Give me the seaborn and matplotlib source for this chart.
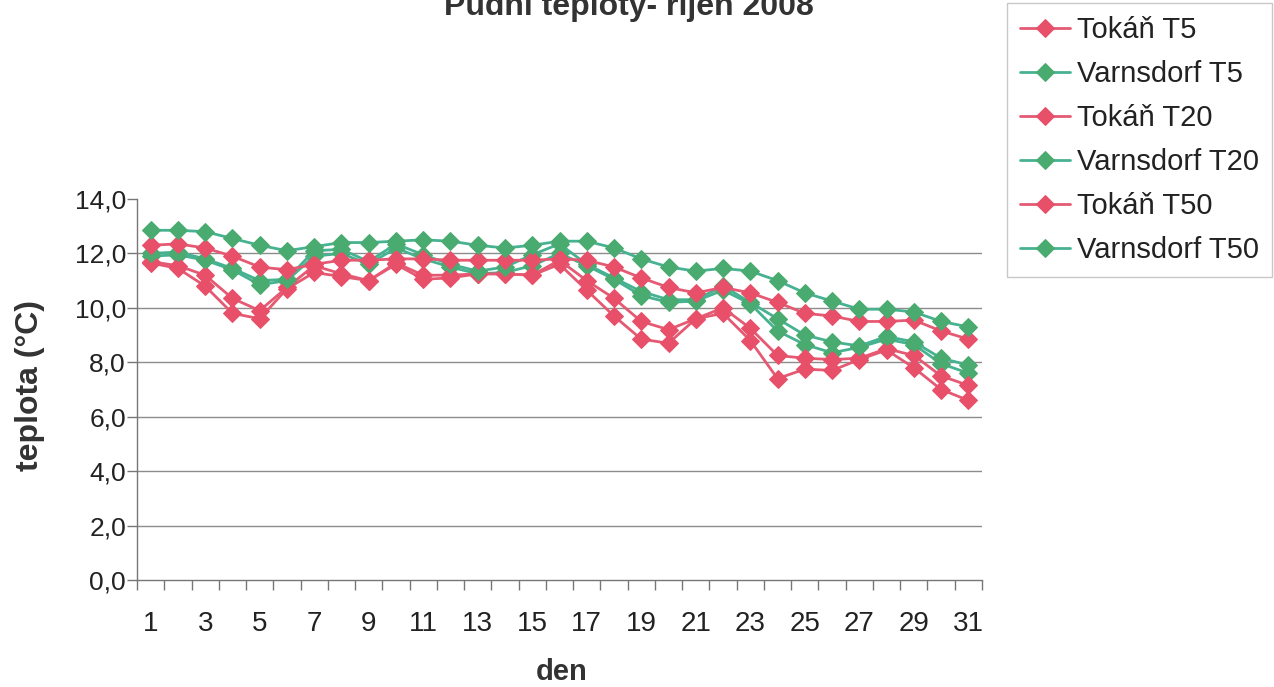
import numpy as np
import pandas as pd
import matplotlib
matplotlib.use("Agg")
import matplotlib.pyplot as plt
import seaborn as sns

days = list(range(1, 32))

tokan_t5 = [11.65, 11.45, 10.8, 9.8, 9.6, 10.7, 11.3, 11.15, 11.0, 11.6, 11.05, 11.1, 11.25, 11.25, 11.2, 11.6,
            10.65, 9.7, 8.85, 8.7, 9.6, 9.8, 8.8, 7.4, 7.75, 7.7, 8.1, 8.45, 7.8, 7.0, 6.6]
varns_t5 = [11.9, 11.95, 11.75, 11.4, 10.85, 11.0, 11.9, 12.0, 11.6, 12.2, 11.8, 11.5, 11.25, 11.3, 11.55, 12.0,
            11.55, 11.05, 10.45, 10.2, 10.25, 10.65, 10.15, 9.15, 8.65, 8.35, 8.55, 8.85, 8.65, 7.95, 7.6]
tokan_t20 = [11.7, 11.55, 11.2, 10.35, 9.9, 10.75, 11.55, 11.25, 11.0, 11.65, 11.2, 11.2, 11.25, 11.25, 11.2, 11.75,
             11.0, 10.35, 9.5, 9.2, 9.6, 10.0, 9.25, 8.25, 8.15, 8.1, 8.15, 8.5, 8.25, 7.5, 7.15]
varns_t20 = [12.0, 12.05, 11.8, 11.45, 11.0, 11.05, 12.1, 12.15, 11.7, 12.35, 11.95, 11.6, 11.35, 11.5, 11.95, 12.35,
             11.6, 11.1, 10.6, 10.3, 10.3, 10.8, 10.2, 9.6, 9.0, 8.75, 8.6, 8.95, 8.75, 8.15, 7.9]
tokan_t50 = [12.3, 12.35, 12.2, 11.9, 11.5, 11.4, 11.6, 11.75, 11.75, 11.8, 11.8, 11.75, 11.75, 11.75, 11.75, 11.8,
             11.75, 11.5, 11.1, 10.75, 10.55, 10.75, 10.55, 10.2, 9.8, 9.7, 9.5, 9.5, 9.55, 9.15, 8.85]
varns_t50 = [12.85, 12.85, 12.8, 12.55, 12.3, 12.1, 12.25, 12.4, 12.4, 12.45, 12.5, 12.45, 12.3, 12.2, 12.3, 12.45,
             12.45, 12.2, 11.8, 11.5, 11.35, 11.45, 11.35, 11.0, 10.55, 10.25, 9.95, 9.95, 9.85, 9.5, 9.3]

series_names = ["Tokáň T5", "Varnsdorf T5", "Tokáň T20", "Varnsdorf T20", "Tokáň T50", "Varnsdorf T50"]
series_values = [tokan_t5, varns_t5, tokan_t20, varns_t20, tokan_t50, varns_t50]

yticks = [0, 2, 4, 6, 8, 10, 12, 14]
ytick_labels = ["0,0", "2,0", "4,0", "6,0", "8,0", "10,0", "12,0", "14,0"]
xtick_days = list(range(1, 32, 2))

RED_LINE = "#e55a72"
RED_MARK = "#e8506a"
GREEN_LINE = "#47b291"
GREEN_MARK = "#4aab70"

sns.set_theme(style="white")
plt.rcParams["font.family"] = ["Liberation Sans", "DejaVu Sans"]

fig = plt.figure(figsize=(12.74, 6.87), dpi=100)
ax = fig.add_axes([137 / 1274, 107 / 687, (982 - 137) / 1274, (580 - 199) / 687])

for yv in yticks[1:-1]:
    ax.axhline(yv, color="#8c8c8c", lw=1.0, zorder=0)

for name, vals in zip(series_names, series_values):
    df = pd.DataFrame({"den": days, "t": vals})
    red = name.startswith("Tok")
    sns.lineplot(data=df, x="den", y="t", ax=ax, color=RED_LINE if red else GREEN_LINE,
                 lw=2.0, marker="D", markersize=9,
                 markerfacecolor=RED_MARK if red else GREEN_MARK,
                 markeredgecolor=RED_MARK if red else GREEN_MARK, label=name, zorder=3)

ax.set_xlim(0.5, 31.5)
ax.set_ylim(0, 14)
ax.set_yticks(yticks)
ax.set_yticklabels(ytick_labels, fontsize=19, color="#222222")
ax.set_xticks(xtick_days)
ax.set_xticklabels([str(d) for d in xtick_days], fontsize=20, color="#222222")
ax.set_xticks(np.arange(0.5, 32, 1.0), minor=True)
ax.tick_params(axis="x", which="major", length=0, pad=22)
ax.tick_params(axis="x", which="minor", length=7, width=1, color="#777777", direction="out", bottom=True)
ax.tick_params(axis="y", which="major", length=7, width=1, color="#777777", direction="out", left=True, pad=1)

for s in ["top", "right"]:
    ax.spines[s].set_visible(False)
for s in ["left", "bottom"]:
    ax.spines[s].set_color("#777777")
    ax.spines[s].set_linewidth(1.0)

ax.set_xlabel("den", fontsize=21, fontweight="bold", color="#333333")
ax.xaxis.set_label_coords(0.503, -0.205)
ax.set_ylabel("teplota (°C)", fontsize=23, fontweight="bold", color="#333333")
ax.yaxis.set_label_coords(-0.109, 0.51)

fig.text(0.494, 1 - 15 / 687, "Půdní teploty- říjen 2008", ha="center", va="baseline",
         fontsize=23, fontweight="bold", color="#333333")

leg = ax.legend(loc="upper left", bbox_to_anchor=(1007 / 1274, 1 - 3 / 687), bbox_transform=fig.transFigure,
                frameon=True, fontsize=21, handlelength=1.7, handletextpad=0.25, labelspacing=0.55,
                borderpad=0.45, borderaxespad=0, fancybox=False, edgecolor="#bbbbbb")
leg.get_frame().set_linewidth(1.0)
for t in leg.get_texts():
    t.set_color("#222222")

fig.savefig("out.png", dpi=100, facecolor="white")
